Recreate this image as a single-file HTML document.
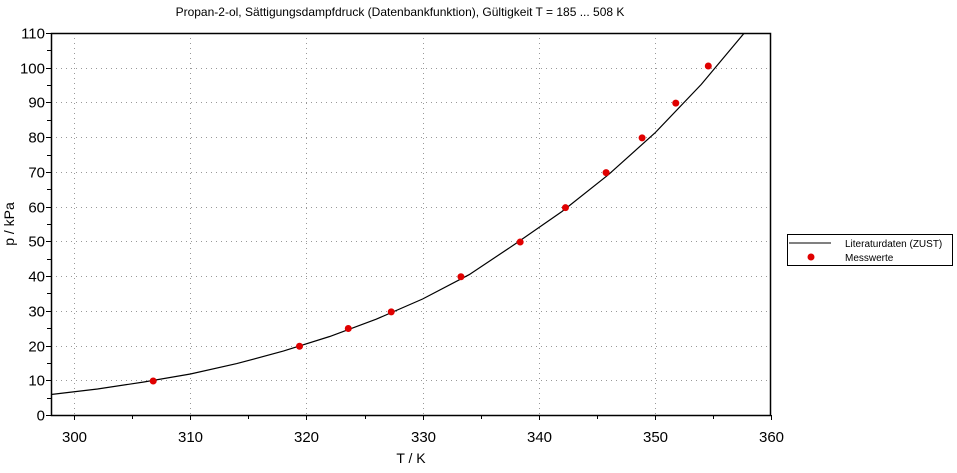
<!DOCTYPE html>
<html><head><meta charset="utf-8"><style>
body{margin:0;background:#fff;}
svg{display:block;font-family:"Liberation Sans",sans-serif;}
</style></head><body>
<svg id="chart" width="957" height="473">
<defs><clipPath id="pc"><rect x="51" y="33" width="720" height="382"/></clipPath></defs>
<text x="400" y="16" font-size="12" text-anchor="middle">Propan-2-ol, Sättigungsdampfdruck (Datenbankfunktion), Gültigkeit T =  185 ... 508 K</text>
<g id="grid"></g>
<g id="axes"></g>
<g clip-path="url(#pc)" id="plot"></g>
<text x="411" y="463" font-size="14" text-anchor="middle">T / K</text>
<text x="14" y="224" font-size="14" text-anchor="middle" transform="rotate(-90 14 224)">p / kPa</text>
<g>
<rect x="787.5" y="234.5" width="165" height="31" fill="#fff" stroke="#000"/>
<line x1="789" y1="243" x2="831" y2="243" stroke="#000"/>
<text x="845" y="247" font-size="10">Literaturdaten (ZUST)</text>
<circle cx="811" cy="257" r="3.5" fill="#e00000"/>
<text x="845" y="261" font-size="10">Messwerte</text>
</g>
</svg>
<script>
const xTicks=[300,310,320,330,340,350,360];
const yTicks=[0,10,20,30,40,50,60,70,80,90,100,110];
const curveT=[298,302,306,310,314,318,322,326,330,334,338,342,346,350,354,358];
const curveP=[5.9,7.5,9.5,11.8,14.8,18.4,22.6,27.6,33.4,40.4,49.3,58.6,69.2,81.2,95.2,111.2];
const measT=[306.8,319.4,323.6,327.3,333.3,338.4,342.3,345.8,348.9,351.8,354.6];
const measP=[9.8,19.8,24.9,29.7,39.8,49.8,59.7,69.8,79.8,89.8,100.5];
const L=51,R=771,T=33,B=415,xmin=298,xmax=360,ymin=0,ymax=110;
const sx=v=>L+(v-xmin)/(xmax-xmin)*(R-L);
const sy=v=>B-(v-ymin)/(ymax-ymin)*(B-T);
const NS="http://www.w3.org/2000/svg";
function mk(tag,attrs,parent){const e=document.createElementNS(NS,tag);for(const k in attrs)e.setAttribute(k,attrs[k]);parent.appendChild(e);return e;}
const grid=document.getElementById('grid'),axes=document.getElementById('axes'),plot=document.getElementById('plot');
xTicks.forEach(v=>{
  const x=Math.round(sx(v))+0.5;
  if(v<xmax){const g=mk('line',{x1:x,y1:T,x2:x,y2:B,stroke:'#999','stroke-dasharray':'1,4'},grid);
  
  }
  const t=mk('line',{x1:x,y1:B,x2:x,y2:B+5,stroke:'#000'},axes);
  
  
  const m=Math.round(sx(v-5))+0.5;
  if(v-5>xmin){const mt=mk('line',{x1:m,y1:B,x2:m,y2:B+4,stroke:'#000'},axes);
  
  }
  const lb=mk('text',{x:x,y:B+27,'font-size':15,'text-anchor':'middle'},axes);lb.textContent=v;
  
  
});
yTicks.forEach(v=>{
  const y=Math.round(sy(v))+0.5;
  if(v>ymin&&v<ymax){const g=mk('line',{x1:L,y1:y,x2:R,y2:y,stroke:'#999','stroke-dasharray':'1,4'},grid);
  
  }
  const t=mk('line',{x1:L-5,y1:y,x2:L,y2:y,stroke:'#000'},axes);
  
  
  if(v>ymin){const m=Math.round(sy(v-5))+0.5;const mt=mk('line',{x1:L-4,y1:m,x2:L,y2:m,stroke:'#000'},axes);
  
  }
  const lb=mk('text',{x:L-6,y:y+5,'font-size':15,'text-anchor':'end'},axes);lb.textContent=v;
  
  
});
const frame=mk('rect',{x:L+0.5,y:T+0.5,width:R-L-1,height:B-T,fill:'none',stroke:'#000','stroke-width':1.5},axes);


const pts=curveT.map((t,i)=>sx(t).toFixed(1)+','+sy(curveP[i]).toFixed(1)).join(' ');
const line=mk('polyline',{points:pts,fill:'none',stroke:'#000','stroke-width':1.2},plot);


measT.forEach((t,i)=>{
  const c=mk('circle',{cx:sx(t),cy:sy(measP[i]),r:3.5,fill:'#e00000'},plot);
  
  
});
</script>
</body></html>
